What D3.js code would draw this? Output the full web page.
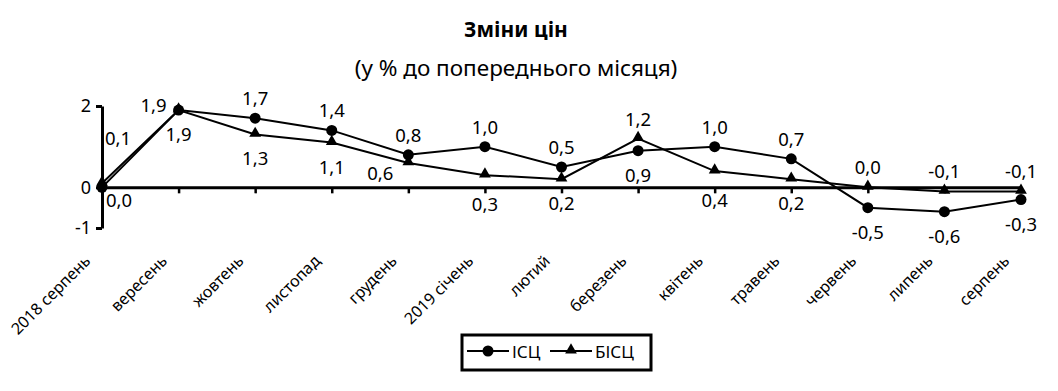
<!DOCTYPE html>
<html>
<head>
<meta charset="utf-8">
<script src="https://d3js.org/d3.v7.min.js"></script>
<style>
  body { margin: 0; background: #fff; }
  svg { font-family: "Noto Sans", "DejaVu Sans", sans-serif; }
</style>
</head>
<body>
<div id="chart"></div>
<script>
// categories
var months = ["2018 серпень", "вересень", "жовтень", "листопад", "грудень", "2019 січень",
              "лютий", "березень", "квітень", "травень", "червень", "липень", "серпень"];
// series values, %
var icsc  = [0.0, 1.9, 1.7, 1.4, 0.8, 1.0, 0.5, 0.9, 1.0, 0.7, -0.5, -0.6, -0.3];
var bicsc = [0.1, 1.9, 1.3, 1.1, 0.6, 0.3, 0.2, 1.2, 0.4, 0.2, 0.0, -0.1, -0.1];
var yTicks = [-1, 0, 2];
// where each value label sits relative to its point
var icscLabelPos  = ["br", "tl", "t", "t", "t", "t", "t", "b", "t", "t", "b", "b", "b"];
var bicscLabelPos = ["rr", "b", "b", "b", "l", "bb", "b", "t", "bb", "b", "t", "t", "t"];

var W = 1058, H = 391;
var svg = d3.select("#chart").append("svg")
    .attr("width", W)
    .attr("height", H);

var x = d3.scalePoint().domain(months).range([102, 1021]);
var y = d3.scaleLinear().domain([-1, 2]).range([228, 106]);

// title
svg.append("text")
    .attr("x", 516).attr("y", 37)
    .attr("text-anchor", "middle")
    .style("font-size", "21px").style("font-weight", "bold")
    .text("Зміни цін");
svg.append("text")
    .attr("x", 516).attr("y", 76)
    .attr("text-anchor", "middle")
    .style("font-size", "22.5px")
    .text("(у % до попереднього місяця)");

// y axis
var yAxis = svg.append("g")
    .attr("transform", "translate(" + x(months[0]) + ",0)")
    .call(d3.axisLeft(y).tickValues(yTicks).tickSize(6).tickSizeOuter(0)
        .tickFormat(function(d) { return String(d); }));
yAxis.select(".domain").attr("stroke-width", 3);
yAxis.selectAll(".tick line").attr("stroke-width", 3);
yAxis.selectAll(".tick text")
    .attr("x", -11)
    .style("font-size", "18px").style("font-family", "Noto Sans");

// x axis at zero
var xAxis = svg.append("g")
    .attr("transform", "translate(0," + y(0) + ")")
    .call(d3.axisBottom(x).tickSize(6).tickSizeOuter(0).tickFormat(""));
xAxis.select(".domain").attr("stroke-width", 3);
xAxis.selectAll(".tick line").attr("stroke-width", 2.5);

// month labels
var xLab = svg.append("g")
    .attr("transform", "translate(0,262)")
    .call(d3.axisBottom(x).tickSize(0));
xLab.select(".domain").remove();
xLab.selectAll(".tick text")
    .attr("text-anchor", "end")
    .attr("x", 0).attr("y", 0).attr("dy", 0)
    .attr("transform", "translate(-11,0) rotate(-45)")
    .style("font-size", "16px").style("font-family", "Noto Sans");

var line = d3.line()
    .x(function(d, i) { return x(months[i]); })
    .y(function(d) { return y(d); });

svg.append("path").datum(bicsc)
    .attr("d", line).attr("fill", "none")
    .attr("stroke", "#000").attr("stroke-width", 2);
svg.append("path").datum(icsc)
    .attr("d", line).attr("fill", "none")
    .attr("stroke", "#000").attr("stroke-width", 2);

var tri = d3.symbol().type(d3.symbolTriangle).size(60);

svg.append("g").selectAll("path").data(bicsc).enter().append("path")
    .attr("d", tri)
    .attr("transform", function(d, i) { return "translate(" + x(months[i]) + "," + (y(d) - 1) + ")"; });
svg.append("g").selectAll("circle").data(icsc).enter().append("circle")
    .attr("cx", function(d, i) { return x(months[i]); })
    .attr("cy", function(d) { return y(d); })
    .attr("r", 5.5);

function fmt(v) { return v.toFixed(1).replace(".", ","); }
var off = {
    t:  [0, -13, "middle"],
    b:  [0, 31, "middle"],
    bb: [0, 36, "middle"],
    tl: [-12, 2, "end"],
    l:  [-15, 17, "end"],
    br: [4, 20, "start"],
    rr: [3, -38, "start"]
};
function labels(vals, pos) {
    svg.append("g").selectAll("text").data(vals).enter().append("text")
        .attr("x", function(d, i) { return x(months[i]) + off[pos[i]][0]; })
        .attr("y", function(d, i) { return y(d) + off[pos[i]][1]; })
        .attr("text-anchor", function(d, i) { return off[pos[i]][2]; })
        .style("font-size", "18.5px")
        .text(fmt);
}
labels(icsc, icscLabelPos);
labels(bicsc, bicscLabelPos);

// legend
var lg = svg.append("g").attr("transform", "translate(462,335)");
lg.append("rect").attr("width", 189).attr("height", 35)
    .attr("fill", "#fff").attr("stroke", "#000").attr("stroke-width", 3);
lg.append("line").attr("x1", 5).attr("x2", 47).attr("y1", 16).attr("y2", 16)
    .attr("stroke", "#000").attr("stroke-width", 2);
lg.append("circle").attr("cx", 26).attr("cy", 16).attr("r", 5.5);
lg.append("text").attr("x", 50).attr("y", 23).style("font-size", "17px").text("ІСЦ");
lg.append("line").attr("x1", 88).attr("x2", 130).attr("y1", 16).attr("y2", 16)
    .attr("stroke", "#000").attr("stroke-width", 2);
lg.append("path").attr("d", tri).attr("transform", "translate(109,15)");
lg.append("text").attr("x", 133).attr("y", 23).style("font-size", "17px").text("БІСЦ");
</script>
</body>
</html>
